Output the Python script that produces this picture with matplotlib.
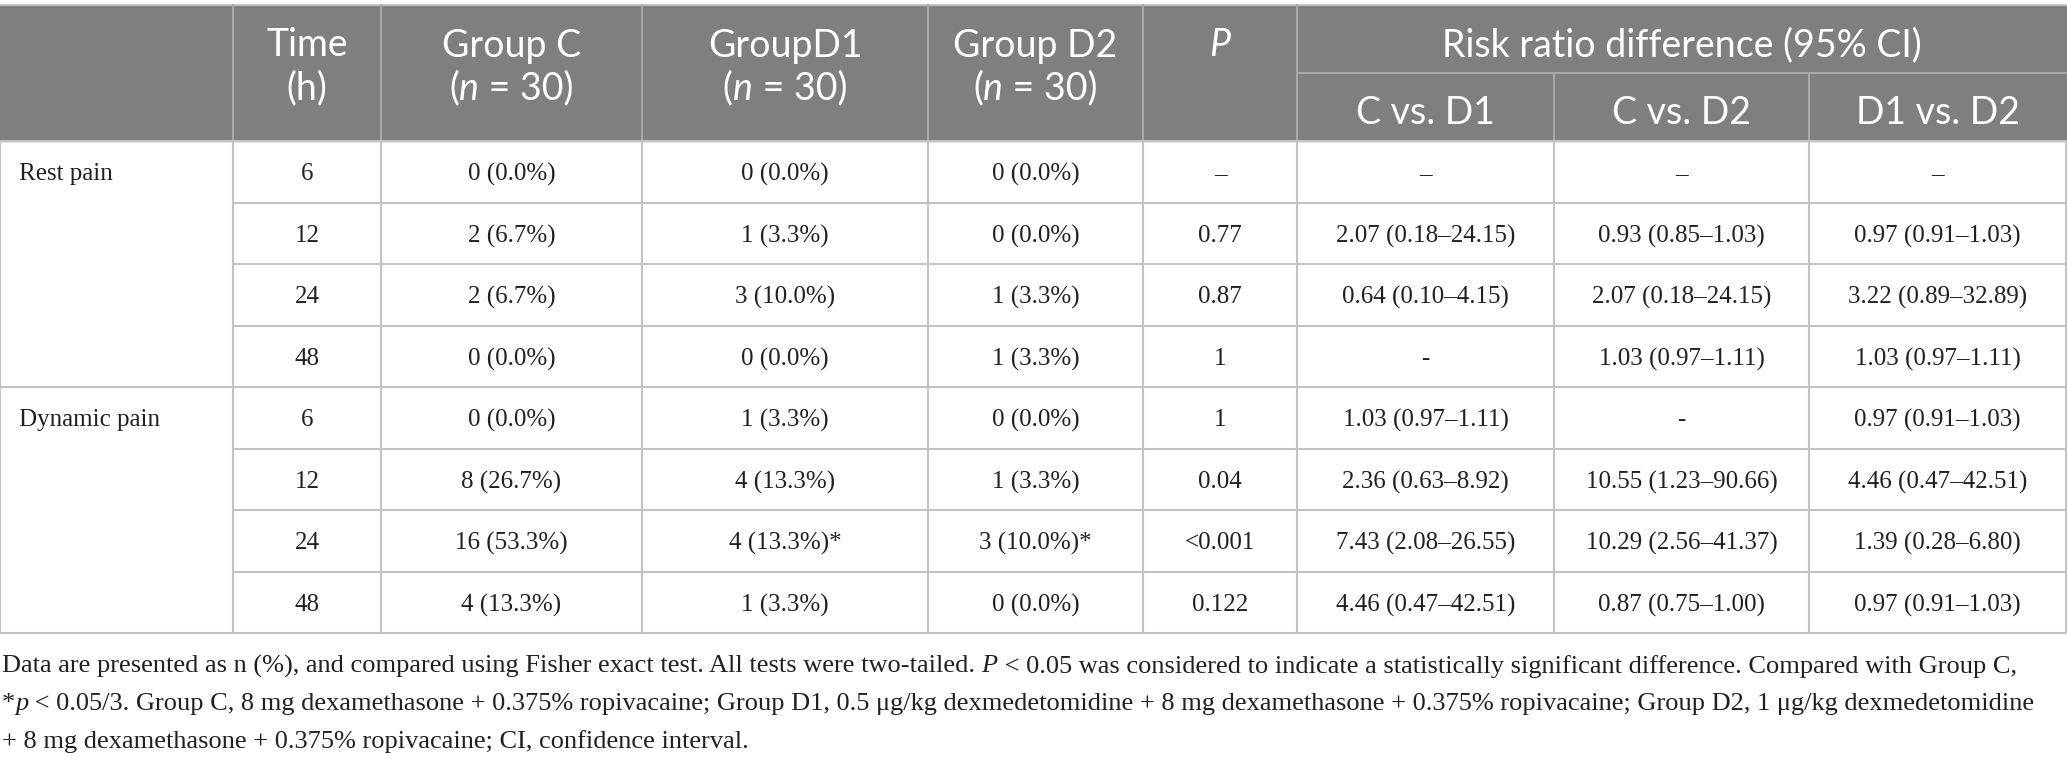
import numpy as np
import matplotlib
matplotlib.use('Agg')
import matplotlib.pyplot as plt
from matplotlib.patches import Rectangle

# ---- table data ----
pain_types = ['Rest pain', 'Dynamic pain']
times = ['6', '12', '24', '48', '6', '12', '24', '48']
group_c = ['0 (0.0%)', '2 (6.7%)', '2 (6.7%)', '0 (0.0%)',
           '0 (0.0%)', '8 (26.7%)', '16 (53.3%)', '4 (13.3%)']
group_d1 = ['0 (0.0%)', '1 (3.3%)', '3 (10.0%)', '0 (0.0%)',
            '1 (3.3%)', '4 (13.3%)', '4 (13.3%)*', '1 (3.3%)']
group_d2 = ['0 (0.0%)', '0 (0.0%)', '1 (3.3%)', '1 (3.3%)',
            '0 (0.0%)', '1 (3.3%)', '3 (10.0%)*', '0 (0.0%)']
p_values = ['\u2013', '0.77', '0.87', '1', '1', '0.04', '<0.001', '0.122']
c_vs_d1 = ['\u2013', '2.07 (0.18\u201324.15)', '0.64 (0.10\u20134.15)', '-',
           '1.03 (0.97\u20131.11)', '2.36 (0.63\u20138.92)', '7.43 (2.08\u201326.55)',
           '4.46 (0.47\u201342.51)']
c_vs_d2 = ['\u2013', '0.93 (0.85\u20131.03)', '2.07 (0.18\u201324.15)', '1.03 (0.97\u20131.11)',
           '-', '10.55 (1.23\u201390.66)', '10.29 (2.56\u201341.37)', '0.87 (0.75\u20131.00)']
d1_vs_d2 = ['\u2013', '0.97 (0.91\u20131.03)', '3.22 (0.89\u201332.89)', '1.03 (0.97\u20131.11)',
            '0.97 (0.91\u20131.03)', '4.46 (0.47\u201342.51)', '1.39 (0.28\u20136.80)',
            '0.97 (0.91\u20131.03)']

# header cells: list of lines, each line a list of (text, italic)
headers = [
    None,
    [[('Time', 0)], [('(h)', 0)]],
    [[('Group C', 0)], [('(', 0), ('n', 1), (' = 30)', 0)]],
    [[('GroupD1', 0)], [('(', 0), ('n', 1), (' = 30)', 0)]],
    [[('Group D2', 0)], [('(', 0), ('n', 1), (' = 30)', 0)]],
    [[('P', 1)]],
]
span_header = 'Risk ratio difference (95% CI)'
sub_headers = ['C vs. D1', 'C vs. D2', 'D1 vs. D2']

footnote = [
    [('Data are presented as n (%), and compared using Fisher exact test. All tests were two-tailed. ', 0),
     ('P', 1), (' < 0.05 was considered to indicate a statistically significant difference. Compared with Group C,', 0)],
    [('*', 0), ('p', 1), (' < 0.05/3. Group C, 8 mg dexamethasone + 0.375% ropivacaine; Group D1, 0.5 \u03bcg/kg '
                          'dexmedetomidine + 8 mg dexamethasone + 0.375% ropivacaine; Group D2, 1 \u03bcg/kg dexmedetomidine', 0)],
    [('+ 8 mg dexamethasone + 0.375% ropivacaine; CI, confidence interval.', 0)],
]

# ---- layout (pixels) ----
W, H = 2067, 760
col_x = [0, 233, 381, 642, 928, 1143, 1297, 1554, 1809, 2066]
head_top, head_mid, head_bot = 5, 73, 141
row_h = 61.5
n_rows = len(times)
row_y = [head_bot + i * row_h for i in range(n_rows + 1)]

head_bg = '#7f7f7f'
head_line = '#a8a8a8'
grid = '#c3c3c3'
txt = '#231f20'
serif = ['Liberation Serif', 'DejaVu Serif']
sans = ['Lato', 'DejaVu Sans']

fig = plt.figure(figsize=(W / 100, H / 100), dpi=100)
ax = fig.add_axes([0, 0, 1, 1])
ax.set_xlim(0, W)
ax.set_ylim(H, 0)
ax.axis('off')
rend = fig.canvas.get_renderer()


def run_width(s, style, size, family):
    # measure with a sentinel so leading/trailing spaces count
    t1 = ax.text(0, 0, s + '|', fontsize=size, family=family, fontstyle=style)
    t2 = ax.text(0, 0, '|', fontsize=size, family=family, fontstyle=style)
    w = t1.get_window_extent(rend).width - t2.get_window_extent(rend).width
    t1.remove()
    t2.remove()
    return w


def draw_runs(x, y, runs, size, family, color, ha='center'):
    styles = ['normal', 'italic']
    widths = [run_width(s, styles[it], size, family) for s, it in runs]
    start = x - sum(widths) / 2 if ha == 'center' else x
    for (s, it), w in zip(runs, widths):
        ax.text(start, y, s, fontsize=size, family=family, fontstyle=styles[it],
                color=color, ha='left', va='center_baseline')
        start += w
    return sum(widths)


# header background
ax.add_patch(Rectangle((0, head_top), W, head_bot - head_top, color=head_bg, zorder=0))
ax.plot([0, W], [head_top - 0.5, head_top - 0.5], color=grid, lw=1.5)
for i, x in enumerate(col_x[1:-1], start=1):
    top = head_mid if i >= 7 else head_top
    ax.plot([x, x], [top, head_bot], color=head_line, lw=1.5)
ax.plot([col_x[6], col_x[-1]], [head_mid, head_mid], color=head_line, lw=1.5)

hsize = 27
line1_y, line2_y = 42, 85
for i, cell in enumerate(headers):
    if cell is None:
        continue
    xc = (col_x[i] + col_x[i + 1]) / 2
    for j, runs in enumerate(cell):
        draw_runs(xc, [line1_y, line2_y][j], runs, hsize, sans, 'white')
draw_runs((col_x[6] + col_x[9]) / 2, line1_y, [(span_header, 0)], hsize, sans, 'white')
for k, s in enumerate(sub_headers):
    xc = (col_x[6 + k] + col_x[7 + k]) / 2
    draw_runs(xc, (head_mid + head_bot) / 2 + 2, [(s, 0)], hsize, sans, 'white')

# body grid
for i, y in enumerate(row_y):
    x0 = 0 if i % 4 == 0 else col_x[1]
    ax.plot([x0, W], [y, y], color=grid, lw=1.5)
for x in col_x:
    ax.plot([x, x], [head_bot, row_y[-1]], color=grid, lw=1.5)

# body text
bsize = 18
columns = [times, group_c, group_d1, group_d2, p_values, c_vs_d1, c_vs_d2, d1_vs_d2]
for r in range(n_rows):
    yc = (row_y[r] + row_y[r + 1]) / 2
    if r % 4 == 0:
        ax.text(19, yc, pain_types[r // 4], fontsize=bsize, family=serif, color=txt,
                ha='left', va='center_baseline')
    for c, vals in enumerate(columns, start=1):
        xc = (col_x[c] + col_x[c + 1]) / 2
        ax.text(xc, yc, vals[r], fontsize=bsize, family=serif, color=txt,
                ha='center', va='center_baseline')

# footnote, size fitted so the first line spans like the reference
fsize = 15
w1 = sum(run_width(s, ['normal', 'italic'][it], fsize, serif) for s, it in footnote[0])
fsize = fsize * 2028 / w1
for j, runs in enumerate(footnote):
    draw_runs(2, 664 + j * 37.5, runs, fsize, serif, txt, ha='left')

fig.savefig('out.png', dpi=100, facecolor='white')
